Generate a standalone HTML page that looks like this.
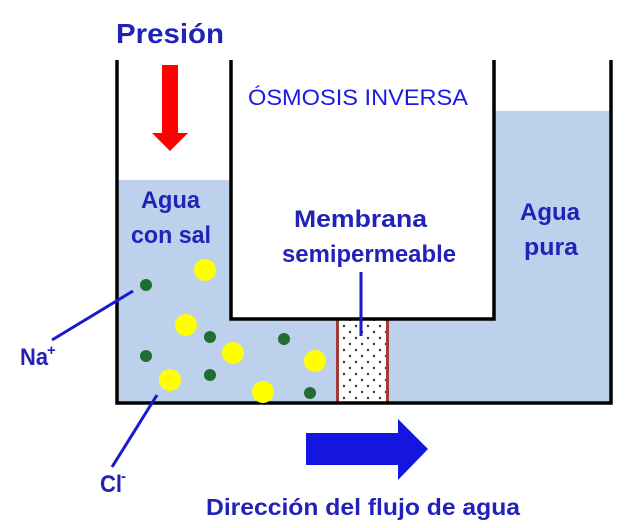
<!DOCTYPE html>
<html><head><meta charset="utf-8"><style>html,body{margin:0;padding:0;background:#fff}svg{display:block}</style></head>
<body>
<svg width="640" height="528" viewBox="0 0 640 528" xmlns="http://www.w3.org/2000/svg" font-family="Liberation Sans, sans-serif">
<defs>
<pattern id="dots" x="340" y="322" width="12" height="12" patternUnits="userSpaceOnUse">
<circle cx="4" cy="4" r="1.2" fill="#333"/><circle cx="10" cy="10" r="1.2" fill="#333"/>
</pattern>
</defs>
<rect x="118" y="180" width="113" height="222" fill="#bdd1ed"/>
<rect x="118" y="320" width="220" height="82" fill="#bdd1ed"/>
<rect x="388" y="320" width="222" height="82" fill="#bdd1ed"/>
<rect x="494" y="111" width="116" height="291" fill="#bdd1ed"/>
<rect x="337" y="320" width="51" height="82" fill="#fff"/>
<rect x="337" y="320" width="51" height="82" fill="url(#dots)"/>
<line x1="337.5" y1="320" x2="337.5" y2="402" stroke="#a33a3a" stroke-width="3"/>
<line x1="387.5" y1="320" x2="387.5" y2="402" stroke="#a33a3a" stroke-width="3"/>
<polyline points="117,60 117,403 611,403 611,60" fill="none" stroke="#000" stroke-width="3.5"/>
<polyline points="231,60 231,319 494,319 494,60" fill="none" stroke="#000" stroke-width="3.5"/>
<g fill="#ffff00">
<circle cx="205" cy="270" r="11"/><circle cx="186" cy="325" r="11"/><circle cx="233" cy="353" r="11"/>
<circle cx="315" cy="361" r="11"/><circle cx="170" cy="380" r="11"/><circle cx="263" cy="392" r="11"/>
</g>
<g fill="#1e6e32">
<circle cx="146" cy="285" r="6"/><circle cx="210" cy="337" r="6"/><circle cx="284" cy="339" r="6"/>
<circle cx="146" cy="356" r="6"/><circle cx="210" cy="375" r="6"/><circle cx="310" cy="393" r="6"/>
</g>
<g stroke="#1a1acc" stroke-width="3">
<line x1="52" y1="340" x2="133" y2="291"/>
<line x1="157" y1="395" x2="112" y2="467"/>
<line x1="361" y1="272" x2="361" y2="336"/>
</g>
<polygon points="162,65 178,65 178,133 188,133 170,151 152,133 162,133" fill="#ff0000"/>
<polygon points="306,433 398,433 398,419 428,449 398,480 398,465 306,465" fill="#1515e0"/>
<g fill="#2222b8" font-weight="bold" font-size="24">
<text x="116" y="43" font-size="28" textLength="108" lengthAdjust="spacingAndGlyphs">Presión</text>
<text x="141" y="208" textLength="59" lengthAdjust="spacingAndGlyphs">Agua</text>
<text x="131" y="243" textLength="80" lengthAdjust="spacingAndGlyphs">con sal</text>
<text x="520" y="220" textLength="60" lengthAdjust="spacingAndGlyphs">Agua</text>
<text x="524" y="255" textLength="54" lengthAdjust="spacingAndGlyphs">pura</text>
<text x="294" y="227" textLength="133" lengthAdjust="spacingAndGlyphs">Membrana</text>
<text x="282" y="262" textLength="174" lengthAdjust="spacingAndGlyphs">semipermeable</text>
<text x="20" y="365" textLength="28" lengthAdjust="spacingAndGlyphs">Na</text>
<text x="47" y="355" font-size="15">+</text>
<text x="100" y="492" textLength="22" lengthAdjust="spacingAndGlyphs">Cl</text>
<text x="121" y="481" font-size="15">-</text>
<text x="206" y="515" font-size="23" textLength="314" lengthAdjust="spacingAndGlyphs">Dirección del flujo de agua</text>
</g>
<text x="248" y="105" fill="#1a1ae6" font-size="22" textLength="220" lengthAdjust="spacingAndGlyphs">ÓSMOSIS INVERSA</text>
</svg>
</body></html>
